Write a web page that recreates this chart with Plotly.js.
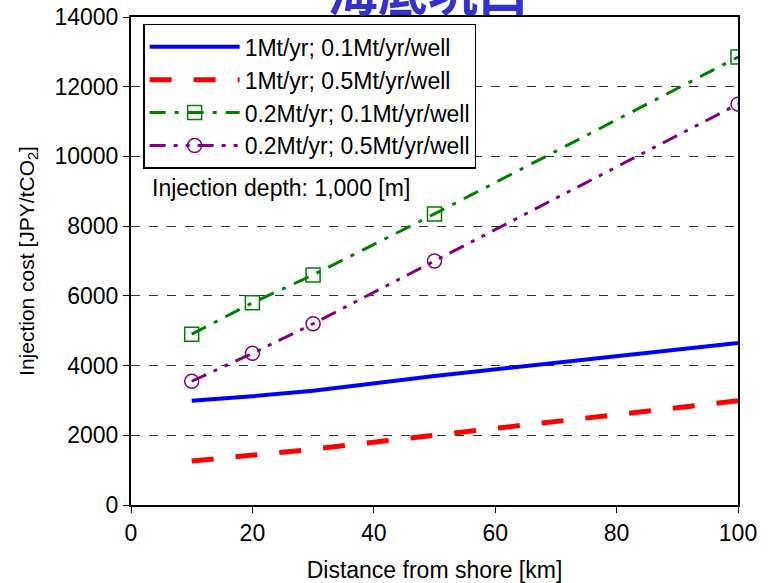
<!DOCTYPE html>
<html><head><meta charset="utf-8">
<script src="https://cdn.plot.ly/plotly-3.0.1.min.js"></script>
<style>body{margin:0;background:#fff}#c{width:771px;height:583px}</style>
</head><body><div id="c"></div>
<script>
const distance = [10, 20, 30, 50, 100];
const s1 = [2990, 3120, 3280, 3700, 4650];
const s2 = [1260, 1440, 1600, 2000, 2990];
const s3 = [4900, 5800, 6600, 8350, 12850];
const s4 = [3550, 4350, 5200, 7000, 11500];
const names = ["1Mt/yr; 0.1Mt/yr/well", "1Mt/yr; 0.5Mt/yr/well", "0.2Mt/yr; 0.1Mt/yr/well", "0.2Mt/yr; 0.5Mt/yr/well"];

const traces = [
  {x: distance, y: s1, name: names[0], mode: 'lines', line: {color: '#0000ff', width: 4}},
  {x: distance, y: s2, name: names[1], mode: 'lines', line: {color: '#ff0000', width: 5, dash: '22px,22px'}},
  {x: distance, y: s3, name: names[2], mode: 'lines+markers', line: {color: '#008000', width: 3, dash: '16px,9px,4px,9px'},
   marker: {symbol: 'square-open', size: 14, color: '#008000', line: {width: 1.5}}},
  {x: distance, y: s4, name: names[3], mode: 'lines+markers', line: {color: '#800080', width: 3, dash: '16px,8px,4px,8px,4px,8px'},
   marker: {symbol: 'circle-open', size: 14, color: '#800080', line: {width: 1.5}}}
];

const layout = {
  width: 771, height: 583,
  margin: {l: 131, r: 33, t: 17, b: 78},
  paper_bgcolor: '#fff', plot_bgcolor: '#fff',
  font: {family: 'Arial, Liberation Sans, sans-serif', size: 23, color: '#000'},
  showlegend: true,
  legend: {x: 0.02, y: 0.986, xanchor: 'left', yanchor: 'top', bgcolor: '#fff', bordercolor: '#000', borderwidth: 1.5,
           font: {size: 23}, itemwidth: 90, tracegroupgap: 0},
  xaxis: {range: [0, 100], dtick: 20, tickformat: 'd', ticks: 'outside', ticklen: 6, tickcolor: '#000', showline: true, linecolor: '#000', linewidth: 2,
          mirror: true, showgrid: false, zeroline: false, tickfont: {size: 23},
          title: {text: 'Distance from shore [km]', font: {size: 23}, standoff: 18}},
  yaxis: {range: [0, 14000], dtick: 2000, tickformat: 'd', ticks: 'outside', ticklen: 6, tickcolor: '#000', showline: true, linecolor: '#000', linewidth: 2,
          mirror: true, showgrid: true, gridcolor: '#333', griddash: 'dash', gridwidth: 1, zeroline: false, tickfont: {size: 23},
          title: {text: 'Injection cost [JPY/tCO<sub>2</sub>]', font: {size: 21}, standoff: 14}},
  annotations: [
    {text: 'Injection depth: 1,000 [m]', xref: 'paper', yref: 'paper', x: 0.032, y: 0.65, xanchor: 'left', yanchor: 'middle', showarrow: false, font: {size: 23}},
    {text: '<b>海底坑口</b>', xref: 'paper', yref: 'paper', x: 0.49, y: 1.0, xanchor: 'center', yanchor: 'bottom', yshift: -10, showarrow: false,
     font: {family: 'Noto Sans CJK JP', size: 50, color: '#3333cc'}}
  ]
};
Plotly.newPlot('c', traces, layout, {displayModeBar: false});
</script></body></html>
